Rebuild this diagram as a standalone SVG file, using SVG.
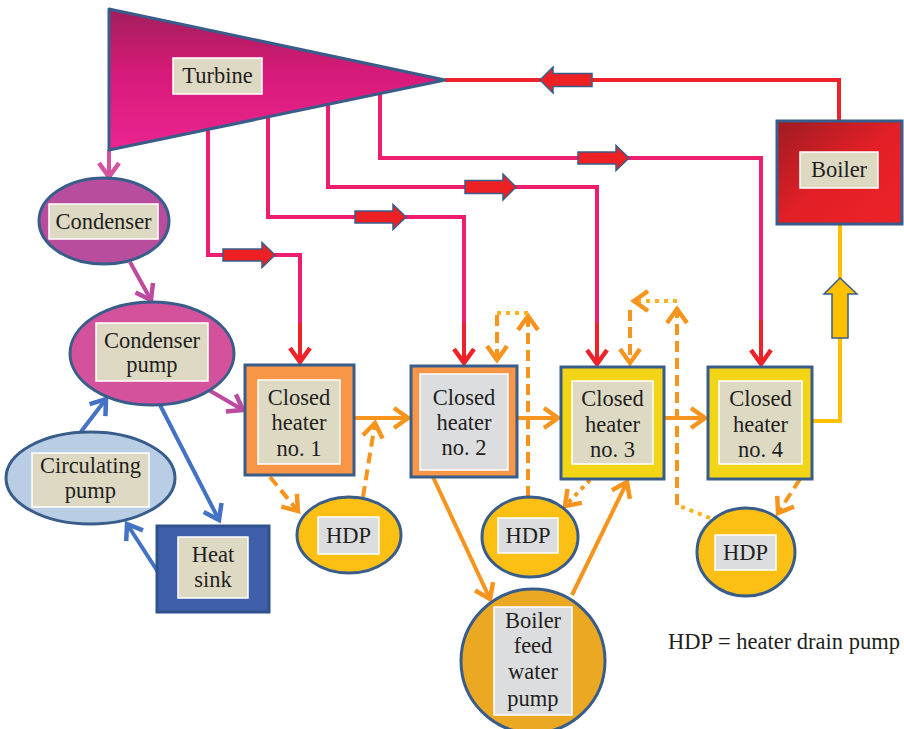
<svg xmlns="http://www.w3.org/2000/svg" width="904" height="729" viewBox="0 0 904 729">
<defs>
<linearGradient id="gTurb" x1="0" y1="0" x2="0" y2="1">
<stop offset="0" stop-color="#A21E5C"/><stop offset="0.45" stop-color="#D61A78"/><stop offset="1" stop-color="#EC2490"/>
</linearGradient>
<linearGradient id="gBoil" x1="0" y1="0" x2="1" y2="1">
<stop offset="0" stop-color="#9E1B22"/><stop offset="0.5" stop-color="#E21F26"/><stop offset="1" stop-color="#EE2229"/>
</linearGradient>
<marker id="mRed" markerUnits="userSpaceOnUse" viewBox="-18 -14 22 28" markerWidth="22" markerHeight="28" refX="0" refY="0" orient="auto"><path d="M-14,-10 L0,0 L-14,10" fill="none" stroke="#EE2228" stroke-width="4.5"/></marker>
<marker id="mOr" markerUnits="userSpaceOnUse" viewBox="-18 -14 22 28" markerWidth="22" markerHeight="28" refX="0" refY="0" orient="auto"><path d="M-14,-10 L0,0 L-14,10" fill="none" stroke="#F7941D" stroke-width="4.5"/></marker>
<marker id="mMag" markerUnits="userSpaceOnUse" viewBox="-18 -14 22 28" markerWidth="22" markerHeight="28" refX="0" refY="0" orient="auto"><path d="M-14,-10 L0,0 L-14,10" fill="none" stroke="#BC4A9E" stroke-width="4.5"/></marker>
<marker id="mPink" markerUnits="userSpaceOnUse" viewBox="-18 -14 22 28" markerWidth="22" markerHeight="28" refX="0" refY="0" orient="auto"><path d="M-14,-10 L0,0 L-14,10" fill="none" stroke="#D6519E" stroke-width="4.5"/></marker>
<marker id="mBlue" markerUnits="userSpaceOnUse" viewBox="-18 -14 22 28" markerWidth="22" markerHeight="28" refX="0" refY="0" orient="auto"><path d="M-14,-10 L0,0 L-14,10" fill="none" stroke="#4472C4" stroke-width="4.5"/></marker>
</defs>
<style>
.t{font-family:"Liberation Serif","DejaVu Serif",serif;font-size:22.5px;fill:#231F20;text-anchor:middle}
.edge{stroke:#385D8A;stroke-width:3}
.lbl{fill:#DDD9C3;stroke:#FFFFFF;stroke-width:1.5}
.lblg{fill:#DCDDDE;stroke:#FFFFFF;stroke-width:1.5}
.pink{fill:none;stroke:#ED1E6E;stroke-width:4}
.red{fill:none;stroke:#EE2228;stroke-width:4}
.or{fill:none;stroke:#F7941D;stroke-width:4}
.dash{fill:none;stroke:#F7941D;stroke-width:4;stroke-dasharray:11 6}
.dot{fill:none;stroke:#FBB21E;stroke-width:4;stroke-dasharray:4 5}
.mag{fill:none;stroke:#BC4A9E;stroke-width:4}
.blue{fill:none;stroke:#4472C4;stroke-width:4}
.blk{fill:#ED2024;stroke:#385D8A;stroke-width:1.5}
</style>
<rect width="904" height="729" fill="#FFFFFF"/>

<g id="connectors">
<polyline class="red" points="839,121 839,80 445,80"/>
<polygon class="blk" points="592,73.5 553,73.5 553,67 540,80 553,93 553,86.5 592,86.5"/>
<polyline class="pink" points="208,129 208,255 300,255 300,323"/>
<line class="red" x1="300" y1="323" x2="300" y2="362" marker-end="url(#mRed)"/>
<polygon class="blk" points="223,249 262,249 262,242.5 275,255 262,267.5 262,261 223,261"/>
<polyline class="pink" points="268,117 268,217 464,217 464,323"/>
<line class="red" x1="464" y1="323" x2="464" y2="363" marker-end="url(#mRed)"/>
<polygon class="blk" points="355,211 393,211 393,204.5 406,217 393,229.5 393,223 355,223"/>
<polyline class="pink" points="328,104 328,187 597,187 597,323"/>
<line class="red" x1="597" y1="323" x2="597" y2="364" marker-end="url(#mRed)"/>
<polygon class="blk" points="465,180.5 503,180.5 503,174 516,187 503,200 503,193.5 465,193.5"/>
<polyline class="pink" points="380,94 380,158 761,158 761,320"/>
<line class="red" x1="761" y1="320" x2="761" y2="364" marker-end="url(#mRed)"/>
<polygon class="blk" points="578,152 616,152 616,145.5 629,158 616,170.5 616,164 578,164"/>
<polyline points="812,421 840,421 840,224" fill="none" stroke="#FFC000" stroke-width="4"/>
<polygon points="832,338 848,338 848,294 857,294 840,278 824,294 832,294" fill="#FFC000" stroke="#385D8A" stroke-width="1.5"/>
<line x1="109" y1="150" x2="109" y2="177" fill="none" stroke="#D6519E" stroke-width="4" marker-end="url(#mPink)"/>
<line class="mag" x1="130" y1="262" x2="151" y2="300" marker-end="url(#mMag)"/>
<line class="mag" x1="207" y1="389" x2="243" y2="410" marker-end="url(#mMag)"/>
<line class="blue" x1="80" y1="433" x2="106" y2="399" marker-end="url(#mBlue)"/>
<line class="blue" x1="160" y1="405" x2="219" y2="520" marker-end="url(#mBlue)"/>
<line class="blue" x1="158" y1="572" x2="127" y2="524" marker-end="url(#mBlue)"/>
<line class="or" x1="354" y1="418" x2="408" y2="418" marker-end="url(#mOr)"/>
<line class="or" x1="517" y1="418" x2="558" y2="418" marker-end="url(#mOr)"/>
<line class="or" x1="664" y1="418" x2="705" y2="418" marker-end="url(#mOr)"/>
<line class="or" x1="433" y1="477" x2="490" y2="599" marker-end="url(#mOr)"/>
<line class="or" x1="572" y1="595" x2="627" y2="482" marker-end="url(#mOr)"/>
<line class="dash" x1="270" y1="477" x2="298" y2="511" marker-end="url(#mOr)"/>
<line class="dash" x1="363" y1="497" x2="375" y2="423" marker-end="url(#mOr)"/>
<line class="dash" x1="528" y1="497" x2="528" y2="316" marker-end="url(#mOr)"/>
<line class="dot" x1="528" y1="313" x2="497" y2="313"/>
<line class="dash" x1="497" y1="315" x2="497" y2="360" marker-end="url(#mOr)"/>
<line x1="590" y1="480" x2="565" y2="506" fill="none" stroke="#F7941D" stroke-width="4" stroke-dasharray="4 5" marker-end="url(#mOr)"/>
<line class="dash" x1="800" y1="479" x2="778" y2="513" marker-end="url(#mOr)"/>
<polyline class="dot" points="710,518 677,505"/>
<line class="dash" x1="677" y1="505" x2="677" y2="309" marker-end="url(#mOr)"/>
<line class="dot" x1="677" y1="301" x2="634" y2="301" marker-end="url(#mOr)"/>
<line class="dash" x1="630" y1="310" x2="630" y2="363" marker-end="url(#mOr)"/>
</g>

<g id="turbine">
<polygon points="109,9 445,80 109,150" fill="url(#gTurb)" class="edge" stroke-linejoin="round"/>
<rect class="lbl" x="173" y="58" width="89" height="36" stroke="#F0C8DA"/>
<text class="t" x="217.5" y="83">Turbine</text>
</g>

<g id="boiler">
<rect x="777" y="121" width="125" height="103" fill="url(#gBoil)" class="edge"/>
<rect class="lbl" x="800" y="152" width="78" height="36"/>
<text class="t" x="839" y="177">Boiler</text>
</g>

<g id="condenser">
<ellipse cx="104" cy="221" rx="65" ry="43" fill="#B84D9E" class="edge"/>
<rect class="lbl" x="49" y="204" width="109" height="35"/>
<text class="t" x="103.5" y="229">Condenser</text>
</g>

<g id="condenser-pump">
<ellipse cx="152" cy="353.5" rx="82" ry="51.5" fill="#D4529B" class="edge"/>
<rect class="lbl" x="96" y="323" width="112" height="58"/>
<text class="t" x="152" y="348">Condenser</text>
<text class="t" x="152" y="372">pump</text>
</g>

<g id="circulating-pump">
<ellipse cx="90.5" cy="478" rx="84.5" ry="46" fill="#B9CDE5" class="edge"/>
<rect class="lbl" x="32" y="453" width="117" height="54"/>
<text class="t" x="90.5" y="473">Circulating</text>
<text class="t" x="90.5" y="498">pump</text>
</g>

<g id="heat-sink">
<rect x="157" y="526" width="112" height="86" fill="#3F5FAA" stroke="#2F528F" stroke-width="3"/>
<rect class="lbl" x="178" y="537" width="70" height="61" stroke="#5A78B8"/>
<text class="t" x="213" y="562">Heat</text>
<text class="t" x="213" y="587">sink</text>
</g>

<g id="heater-1">
<rect x="245" y="365" width="109" height="110" fill="#F79646" class="edge"/>
<rect class="lbl" x="258" y="380" width="82" height="84"/>
<text class="t" x="299" y="405">Closed</text>
<text class="t" x="299" y="430">heater</text>
<text class="t" x="299" y="456">no. 1</text>
</g>

<g id="heater-2">
<rect x="411" y="366" width="106" height="111" fill="#F79646" class="edge"/>
<rect class="lblg" x="420" y="374" width="88" height="96"/>
<text class="t" x="464" y="405">Closed</text>
<text class="t" x="464" y="430">heater</text>
<text class="t" x="464" y="455">no. 2</text>
</g>

<g id="heater-3">
<rect x="561" y="367" width="103" height="112" fill="#F2D516" class="edge"/>
<rect class="lbl" x="572" y="381" width="81" height="83"/>
<text class="t" x="612.5" y="406">Closed</text>
<text class="t" x="612.5" y="432">heater</text>
<text class="t" x="612.5" y="457">no. 3</text>
</g>

<g id="heater-4">
<rect x="708" y="367" width="104" height="112" fill="#F2D516" class="edge"/>
<rect class="lbl" x="719" y="381" width="83" height="83"/>
<text class="t" x="760.5" y="406">Closed</text>
<text class="t" x="760.5" y="432">heater</text>
<text class="t" x="760.5" y="457">no. 4</text>
</g>

<g id="hdp-1">
<ellipse cx="349" cy="535" rx="52" ry="38" fill="#FCBF14" class="edge"/>
<rect class="lblg" x="318" y="517" width="61" height="37"/>
<text class="t" x="348.5" y="543">HDP</text>
</g>

<g id="hdp-2">
<ellipse cx="530" cy="537" rx="48" ry="40" fill="#FCBF14" class="edge"/>
<rect class="lblg" x="498" y="518" width="60" height="35"/>
<text class="t" x="528" y="543">HDP</text>
</g>

<g id="hdp-3">
<ellipse cx="746" cy="552" rx="49" ry="44" fill="#FCBF14" class="edge"/>
<rect class="lblg" x="715" y="535" width="61" height="35"/>
<text class="t" x="745.5" y="560">HDP</text>
</g>

<g id="boiler-feed-water-pump">
<circle cx="533" cy="661" r="72" fill="#EBA823" class="edge"/>
<rect class="lblg" x="494" y="607" width="78" height="108"/>
<text class="t" x="533" y="628">Boiler</text>
<text class="t" x="533" y="653">feed</text>
<text class="t" x="533" y="679">water</text>
<text class="t" x="533" y="706">pump</text>
</g>

<g id="legend">
<text class="t" x="784" y="649">HDP = heater drain pump</text>
</g>
</svg>
